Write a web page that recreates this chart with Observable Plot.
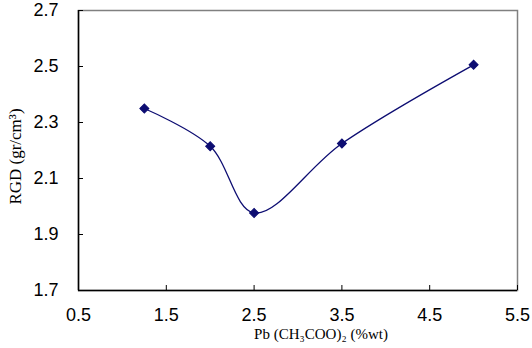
<!DOCTYPE html>
<html>
<head>
<meta charset="utf-8">
<script src="https://cdn.jsdelivr.net/npm/d3@7"></script>
<script src="https://cdn.jsdelivr.net/npm/@observablehq/plot@0.6"></script>
<style>
  html, body { margin: 0; padding: 0; background: #fff; }
  svg { display: block; }
</style>
</head>
<body>
<div id="chart"></div>
<script>
const pbContent = [1.25, 2.0, 2.5, 3.5, 5.0];
const rgd = [2.35, 2.215, 1.977, 2.225, 2.506];
const xTicks = [0.5, 1.5, 2.5, 3.5, 4.5, 5.5];
const yTicks = [1.7, 1.9, 2.1, 2.3, 2.5, 2.7];
const xLabel = "Pb (CH\u2083COO)\u2082 (%wt)";
const yLabel = "RGD (gr/cm\u00B3)";

const data = pbContent.map((x, i) => ({x, y: rgd[i]}));
const xDomain = [xTicks[0], xTicks[xTicks.length - 1]];
const yDomain = [yTicks[0], yTicks[yTicks.length - 1]];

const navy = "#0d0d72";

const chart = Plot.plot({
  width: 532,
  height: 348,
  marginLeft: 78,
  marginRight: 15,
  marginTop: 10,
  marginBottom: 58,
  style: {fontFamily: "'Liberation Sans', Arial, sans-serif", fontSize: "18px", color: "#000", background: "#fff"},
  x: {domain: xDomain, ticks: xTicks},
  y: {domain: yDomain, ticks: yTicks},
  marks: [
    Plot.frame({stroke: "#808080", strokeWidth: 1.5}),
    Plot.ruleX([xDomain[0]], {stroke: "#000", strokeWidth: 1.5}),
    Plot.ruleY([yDomain[0]], {stroke: "#000", strokeWidth: 1.5}),
    Plot.axisX({ticks: xTicks, tickSize: -5, tickPadding: 23, tickFormat: d3.format(".1f"), label: null, fontSize: 18}),
    Plot.axisY({ticks: yTicks, tickSize: -5, tickPadding: 25, tickFormat: d3.format(".1f"), label: null, fontSize: 18}),
    Plot.text([yLabel], {frameAnchor: "left", dx: -63, dy: 6, rotate: -90, textAnchor: "middle", fontFamily: "'Liberation Serif', 'Times New Roman', serif", fontSize: 17}),
    Plot.text([xLabel], {frameAnchor: "bottom", dx: 23, dy: 48, fontFamily: "'Liberation Serif', 'Times New Roman', serif", fontSize: 15}),
    Plot.line(data, {x: "x", y: "y", curve: "catmull-rom", stroke: navy, strokeWidth: 1.3}),
    Plot.dot(data, {x: "x", y: "y", symbol: "square", rotate: 45, r: 3.6, fill: navy, stroke: navy, strokeWidth: 1})
  ]
});
document.getElementById("chart").appendChild(chart);
</script>
</body>
</html>
